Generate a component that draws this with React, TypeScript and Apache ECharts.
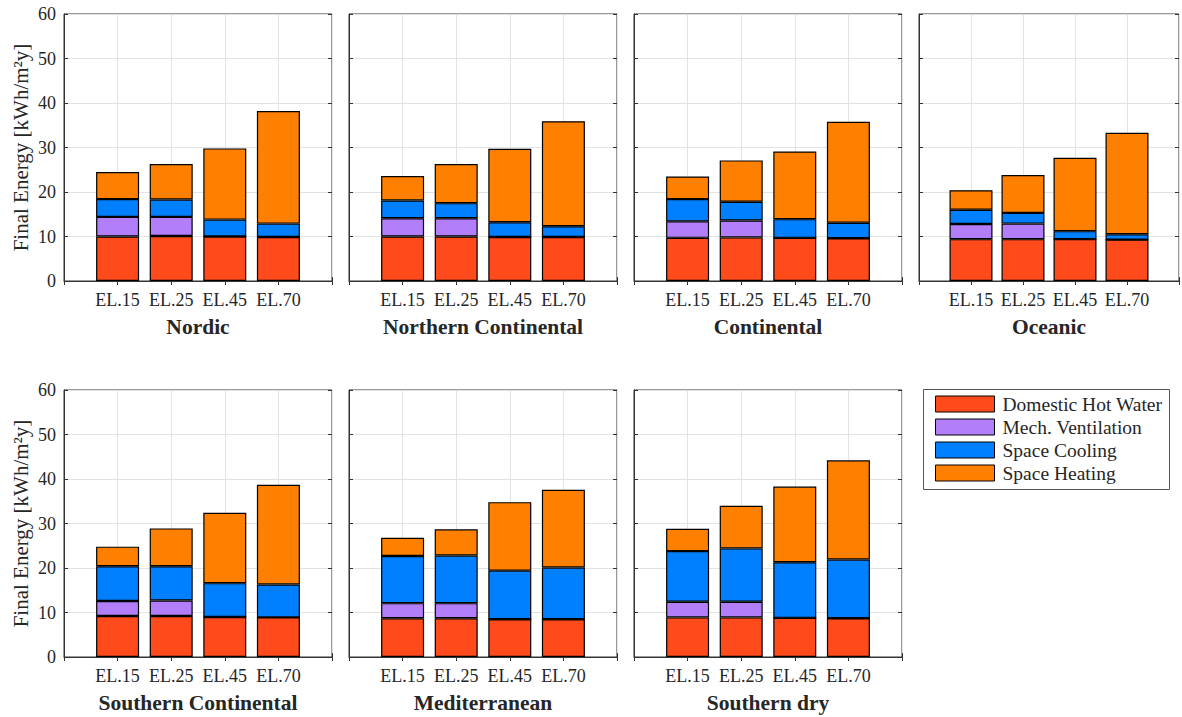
import React, { useEffect, useRef } from "react";
import * as echarts from "echarts";

const categories = ["EL.15", "EL.25", "EL.45", "EL.70"];
const regions = [
  "Nordic",
  "Northern Continental",
  "Continental",
  "Oceanic",
  "Southern Continental",
  "Mediterranean",
  "Southern dry",
];
const seriesNames = ["Domestic Hot Water", "Mech. Ventilation", "Space Cooling", "Space Heating"];
const seriesColors = ["#FF4A1B", "#B27EFA", "#0080FF", "#FF8000"];

// per region: [EL.15, EL.25, EL.45, EL.70]
const domesticHotWater = [
  [10.0, 10.1, 10.0, 9.9],
  [10.0, 10.0, 9.9, 9.9],
  [9.7, 9.8, 9.7, 9.6],
  [9.4, 9.4, 9.4, 9.3],
  [9.2, 9.2, 9.0, 8.9],
  [8.7, 8.7, 8.5, 8.5],
  [8.9, 8.9, 8.8, 8.7],
];
const mechVentilation = [
  [4.4, 4.3, 0, 0],
  [4.1, 4.1, 0, 0],
  [3.7, 3.8, 0, 0],
  [3.4, 3.5, 0, 0],
  [3.4, 3.5, 0, 0],
  [3.4, 3.4, 0, 0],
  [3.5, 3.5, 0, 0],
];
const spaceCooling = [
  [4.0, 3.9, 3.8, 3.0],
  [4.0, 3.4, 3.3, 2.4],
  [5.0, 4.2, 4.2, 3.5],
  [3.2, 2.4, 1.8, 1.2],
  [7.8, 7.7, 7.6, 7.4],
  [10.6, 10.7, 10.9, 11.6],
  [11.4, 12.0, 12.5, 13.2],
];
const spaceHeating = [
  [6.1, 8.0, 16.0, 25.3],
  [5.5, 8.8, 16.5, 23.6],
  [5.1, 9.3, 15.2, 22.7],
  [4.4, 8.5, 16.5, 22.8],
  [4.4, 8.5, 15.8, 22.4],
  [4.1, 5.9, 15.4, 17.5],
  [5.0, 9.6, 17.0, 22.3],
];
const yMin = 0;
const yMax = 60;
const yInterval = 10;
const yAxisTitle = "Final Energy [kWh/m²y]";

const allSeriesData = [domesticHotWater, mechVentilation, spaceCooling, spaceHeating];

const FONT = "'Liberation Serif', 'Times New Roman', serif";
const TEXT = "#262626";

export default function App() {
  const ref = useRef<HTMLDivElement>(null);
  useEffect(() => {
    document.body.style.margin = "0";
    const chart = echarts.init(ref.current!, null, { renderer: "svg" });
    const lefts = [64, 349, 634, 919];
    const tops = [14, 390];
    const W = 268;
    const H = 267;
    // padded axis: empty slot at each end so bars sit at 1..4 of 0..5
    const axisCats = ["", ...categories, ""];
    const grids: any[] = [];
    const xAxes: any[] = [];
    const yAxes: any[] = [];
    const series: any[] = [];
    regions.forEach((region, r) => {
      const row = r < 4 ? 0 : 1;
      const col = r < 4 ? r : r - 4;
      grids.push({
        left: lefts[col],
        top: tops[row],
        width: W,
        height: H,
        show: true,
        borderColor: "#333",
        borderWidth: 1,
        backgroundColor: "#fff",
      });
      const firstCol = col === 0;
      xAxes.push({
        type: "category",
        gridIndex: r,
        data: axisCats,
        boundaryGap: false,
        position: "bottom",
        axisLine: { show: true, lineStyle: { color: "#333" } },
        axisTick: { show: true, inside: true, length: 4, interval: 0, lineStyle: { color: "#333" } },
        splitLine: { show: true, interval: 0, lineStyle: { color: "#e3e3e3", width: 1 } },
        axisLabel: {
          interval: 0,
          fontFamily: FONT,
          fontSize: 18,
          color: TEXT,
          margin: 10,
        },
        name: region,
        nameLocation: "middle",
        nameGap: 35,
        nameTextStyle: { fontFamily: FONT, fontSize: 21.5, fontWeight: "bold", color: TEXT },
      });
      xAxes.push({
        type: "category",
        gridIndex: r,
        data: axisCats,
        boundaryGap: false,
        position: "top",
        axisLine: { show: false },
        axisTick: { show: true, inside: true, length: 4, interval: 0, lineStyle: { color: "#333" } },
        splitLine: { show: false },
        axisLabel: { show: false },
      });
      yAxes.push({
        type: "value",
        gridIndex: r,
        min: yMin,
        max: yMax,
        interval: yInterval,
        position: "left",
        axisLine: { show: true, lineStyle: { color: "#333" } },
        axisTick: { show: true, inside: true, length: 4, lineStyle: { color: "#333" } },
        splitLine: { show: true, lineStyle: { color: "#e3e3e3", width: 1 } },
        axisLabel: {
          show: firstCol,
          fontFamily: FONT,
          fontSize: 18,
          color: TEXT,
          margin: 8,
        },
        name: firstCol ? yAxisTitle : "",
        nameLocation: "middle",
        nameGap: 33,
        nameTextStyle: { fontFamily: FONT, fontSize: 21, color: TEXT },
      });
      yAxes.push({
        type: "value",
        gridIndex: r,
        min: yMin,
        max: yMax,
        interval: yInterval,
        position: "right",
        axisLine: { show: false },
        axisTick: { show: true, inside: true, length: 4, lineStyle: { color: "#333" } },
        splitLine: { show: false },
        axisLabel: { show: false },
      });
      seriesNames.forEach((name, s) => {
        series.push({
          type: "bar",
          name,
          xAxisIndex: r * 2,
          yAxisIndex: r * 2,
          stack: "total" + r,
          barWidth: 43,
          data: ["-", ...allSeriesData[s][r], "-"],
          itemStyle: { color: seriesColors[s], borderColor: "#000", borderWidth: 1.2 },
        });
      });
    });

    chart.setOption({
      animation: false,
      backgroundColor: "#fff",
      grid: grids,
      xAxis: xAxes,
      yAxis: yAxes,
      series,
      legend: {
        data: seriesNames,
        orient: "vertical",
        left: 935,
        top: 394,
        padding: 0,
        itemWidth: 59,
        itemHeight: 16,
        itemGap: 3,
        icon: "rect",
        selectedMode: false,
        itemStyle: { borderColor: "#000", borderWidth: 1 },
        textStyle: {
          fontFamily: FONT,
          fontSize: 19.5,
          color: TEXT,
          padding: [0, 0, 0, 3],
        },
      },
      graphic: [
        {
          type: "rect",
          left: 923,
          top: 389,
          shape: { width: 246, height: 100 },
          style: { fill: "#fff", stroke: "#555", lineWidth: 1 },
          z: -1,
        },
      ],
    });
    return () => chart.dispose();
  }, []);
  return <div ref={ref} style={{ width: 1182, height: 717 }} />;
}
